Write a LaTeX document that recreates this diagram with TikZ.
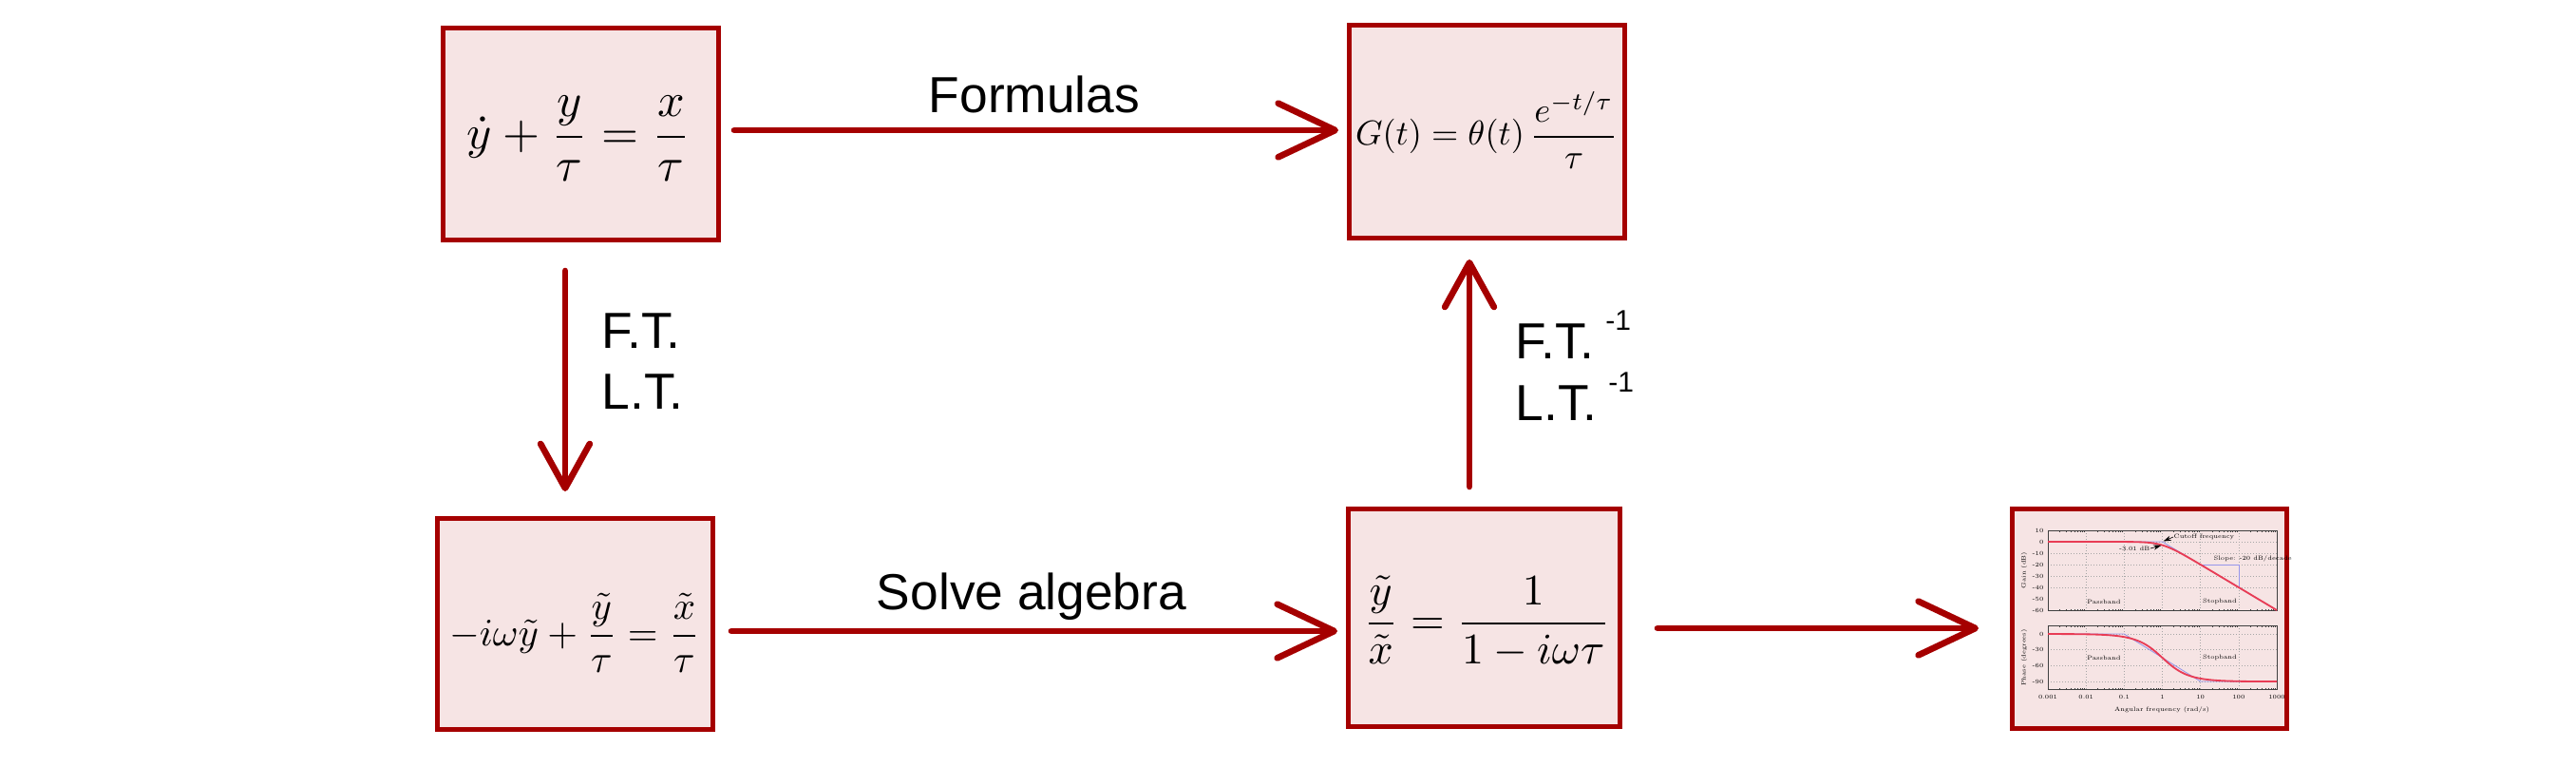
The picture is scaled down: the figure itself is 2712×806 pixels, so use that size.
\documentclass[tikz,border=0pt]{standalone}
\usepackage{fontspec}
\usepackage{amsmath}
\usepackage{graphicx}
\newfontfamily\lblfont{Liberation Sans}
\usetikzlibrary{arrows.meta}
\definecolor{dred}{RGB}{165,0,0}
\definecolor{bfill}{RGB}{246,228,228}
\definecolor{curvered}{RGB}{232,60,85}
\definecolor{asymblue}{RGB}{150,150,235}
\begin{document}
\begin{tikzpicture}[x=0.3pt,y=-0.3pt,
  box/.style={draw=dred, fill=bfill, line width=1.5pt, inner sep=0pt},
  harr/.style={dred, line width=2pt, line cap=round, -{Straight Barb[length=18pt,width=17pt,round]}},
  varr/.style={dred, line width=2pt, line cap=round, -{Straight Barb[length=14pt,width=15.5pt,round]}},
  lbl/.style={font=\lblfont\fontsize{16}{19}\selectfont, inner sep=0pt},
  formula/.style={inner sep=0pt},
  bgrid/.style={gray!70, line width=0.15pt, dash pattern=on 0.3pt off 0.6pt},
  bframe/.style={black!75, line width=0.25pt},
  btick/.style={black!75, line width=0.15pt},
  btext/.style={inner sep=0pt, font=\fontsize{1.9}{2.3}\selectfont}]
\useasboundingbox (0,0) rectangle (2712,806);

% boxes
\node[box, minimum width=87pt, minimum height=66.9pt] (A) at (611.5,141) {};
\node[box, minimum width=87pt, minimum height=67.2pt] (B) at (1565.5,138.5) {};
\node[box, minimum width=87pt, minimum height=66.6pt] (C) at (605.5,656.5) {};
\node[box, minimum width=85.8pt, minimum height=68.7pt] (D) at (1562.5,650) {};
\node[box, minimum width=86.7pt, minimum height=69.3pt] (E) at (2263,651) {};

% formulas
\node[formula] (fA) at (609.5,146) {\resizebox{70.5pt}{!}{$\displaystyle \dot y+\frac{y}{\tau}=\frac{x}{\tau}$}};
\node[formula] (fB) at (1565,137) {\resizebox{82.8pt}{!}{$\displaystyle G(t)=\theta(t)\,\frac{e^{-t/\tau}}{\tau}$}};
\node[formula] (fC) at (605,666) {\resizebox{79.2pt}{!}{$\displaystyle -i\omega\tilde y+\frac{\tilde y}{\tau}=\frac{\tilde x}{\tau}$}};
\node[formula] (fD) at (1565,654) {\resizebox{78pt}{!}{$\displaystyle \frac{\tilde y}{\tilde x}=\frac{1}{1-i\omega\tau}$}};

% connectors
\coordinate (a1) at ([yshift=1.2pt]A.east);
\draw[harr, shorten <=4.2pt, shorten >=2.7pt] (a1) -- (a1 -| B.west);
\coordinate (d1) at ([xshift=-4.95pt]A.south);
\draw[varr, shorten <=9pt, shorten >=7.8pt] (d1) -- (d1 |- C.north);
\coordinate (u1) at ([xshift=-4.65pt]D.north);
\draw[varr, shorten <=6.3pt, shorten >=6pt] (u1) -- (u1 |- B.south);
\coordinate (s1) at ([yshift=-2.25pt]C.east);
\draw[harr, shorten <=5.1pt, shorten >=2.7pt] (s1) -- (s1 -| D.west);
\coordinate (e1) at ([yshift=-3.3pt]D.east);
\draw[harr, shorten <=11.1pt, shorten >=9.9pt] (e1) -- (e1 -| E.west);

% labels
\node[lbl, anchor=base] (lf) at (1089,118) {Formulas};
\node[lbl, anchor=base] (ls) at (1086,641) {Solve algebra};
\node[lbl, anchor=base west] (lft1) at (633,366) {F.T.};
\node[lbl, anchor=base west] (llt1) at (633,430) {L.T.};
\node[lbl, anchor=base west] (lft2) at (1595,377) {F.T.\hspace{3.5pt}\raisebox{9pt}{\fontsize{9}{10}\selectfont -1}};
\node[lbl, anchor=base west] (llt2) at (1595,442) {L.T.\hspace{3.5pt}\raisebox{9pt}{\fontsize{9}{10}\selectfont -1}};

% Bode plot inside E
% gain panel
\foreach \i in {1,...,5} \draw[bgrid] ({2156+40.17*\i},558) -- ({2156+40.17*\i},642);
\foreach \k in {1,...,5} \draw[bgrid] (2156,{558+12*\k}) -- (2397,{558+12*\k});
\foreach \d in {0,...,5} \foreach \m in {2,...,9} {
  \draw[btick] ({2156+40.17*(\d+ln(\m)/2.302585)},642) -- ++(0,-1.5);
  \draw[btick] ({2156+40.17*(\d+ln(\m)/2.302585)},558) -- ++(0,1.5);
  \draw[btick] ({2156+40.17*(\d+ln(\m)/2.302585)},725) -- ++(0,-1.5);
  \draw[btick] ({2156+40.17*(\d+ln(\m)/2.302585)},658) -- ++(0,1.5);
}
\draw[bframe] (2156,558) rectangle (2397,642);
\foreach \v [count=\k from 0] in {10,0,-10,-20,-30,-40,-50,-60}
  \node[btext, anchor=east] (gt\k) at (2152,{558+12*\k}) {\v};
\draw[asymblue, line width=0.25pt] (2156,570) -- (2276.5,570) -- (2397,642);
\draw[asymblue, line width=0.25pt] (2316.7,594) -- (2356.9,594) -- (2356.9,618);
\draw[curvered, line width=0.55pt] plot[domain=-3:3, samples=90]
  ({2156+40.17*(\x+3)},{570+12*(max(0,2*\x)+ln(1+exp(-4.60517*abs(\x)))/2.302585)});
\node[btext, rotate=90] (gain) at (2131,600) {Gain (dB)};
\node[btext, anchor=west] (cut) at (2288,565) {Cutoff frequency};
\node[btext, anchor=east] (db3) at (2264,577) {-3.01 dB};
\draw[black, line width=0.2pt, -{Stealth[length=2.5pt,width=1.6pt]}] (cut.west) -- (2277.5,569.5);
\draw[black, line width=0.2pt, -{Stealth[length=2.5pt,width=1.6pt]}] (db3.east) -- (2275.5,573.8);
\node[btext, anchor=west] (slope) at (2330,588) {Slope: -20 dB/decade};
\node[btext] (pb1) at (2215,633) {Passband};
\node[btext] (sb1) at (2337,633) {Stopband};
% phase panel
\foreach \i in {1,...,5} \draw[bgrid] ({2156+40.17*\i},658) -- ({2156+40.17*\i},725);
\foreach \k in {0,...,3} \draw[bgrid] (2156,{667+16.7*\k}) -- (2397,{667+16.7*\k});
\draw[bframe] (2156,658) rectangle (2397,725);
\foreach \v [count=\k from 0] in {0,-30,-60,-90}
  \node[btext, anchor=east] (pt\k) at (2152,{667+16.7*\k}) {\v};
\draw[asymblue, line width=0.25pt] (2156,667) -- (2236.3,667) -- (2316.7,717) -- (2397,717);
\draw[curvered, line width=0.55pt] plot[domain=-3:3, samples=90]
  ({2156+40.17*(\x+3)},{667+0.5567*atan(exp(2.302585*\x))});
\node[btext, rotate=90] (phase) at (2131,692) {Phase (degrees)};
\node[btext] (pb2) at (2215,692) {Passband};
\node[btext] (sb2) at (2337,692) {Stopband};
\foreach \v [count=\k from 0] in {0.001,0.01,0.1,1,10,100,1000}
  \node[btext] (xt\k) at ({2156+40.17*\k},733) {\v};
\node[btext] (axt) at (2276,747) {Angular frequency (rad/s)};
\end{tikzpicture}
\end{document}
